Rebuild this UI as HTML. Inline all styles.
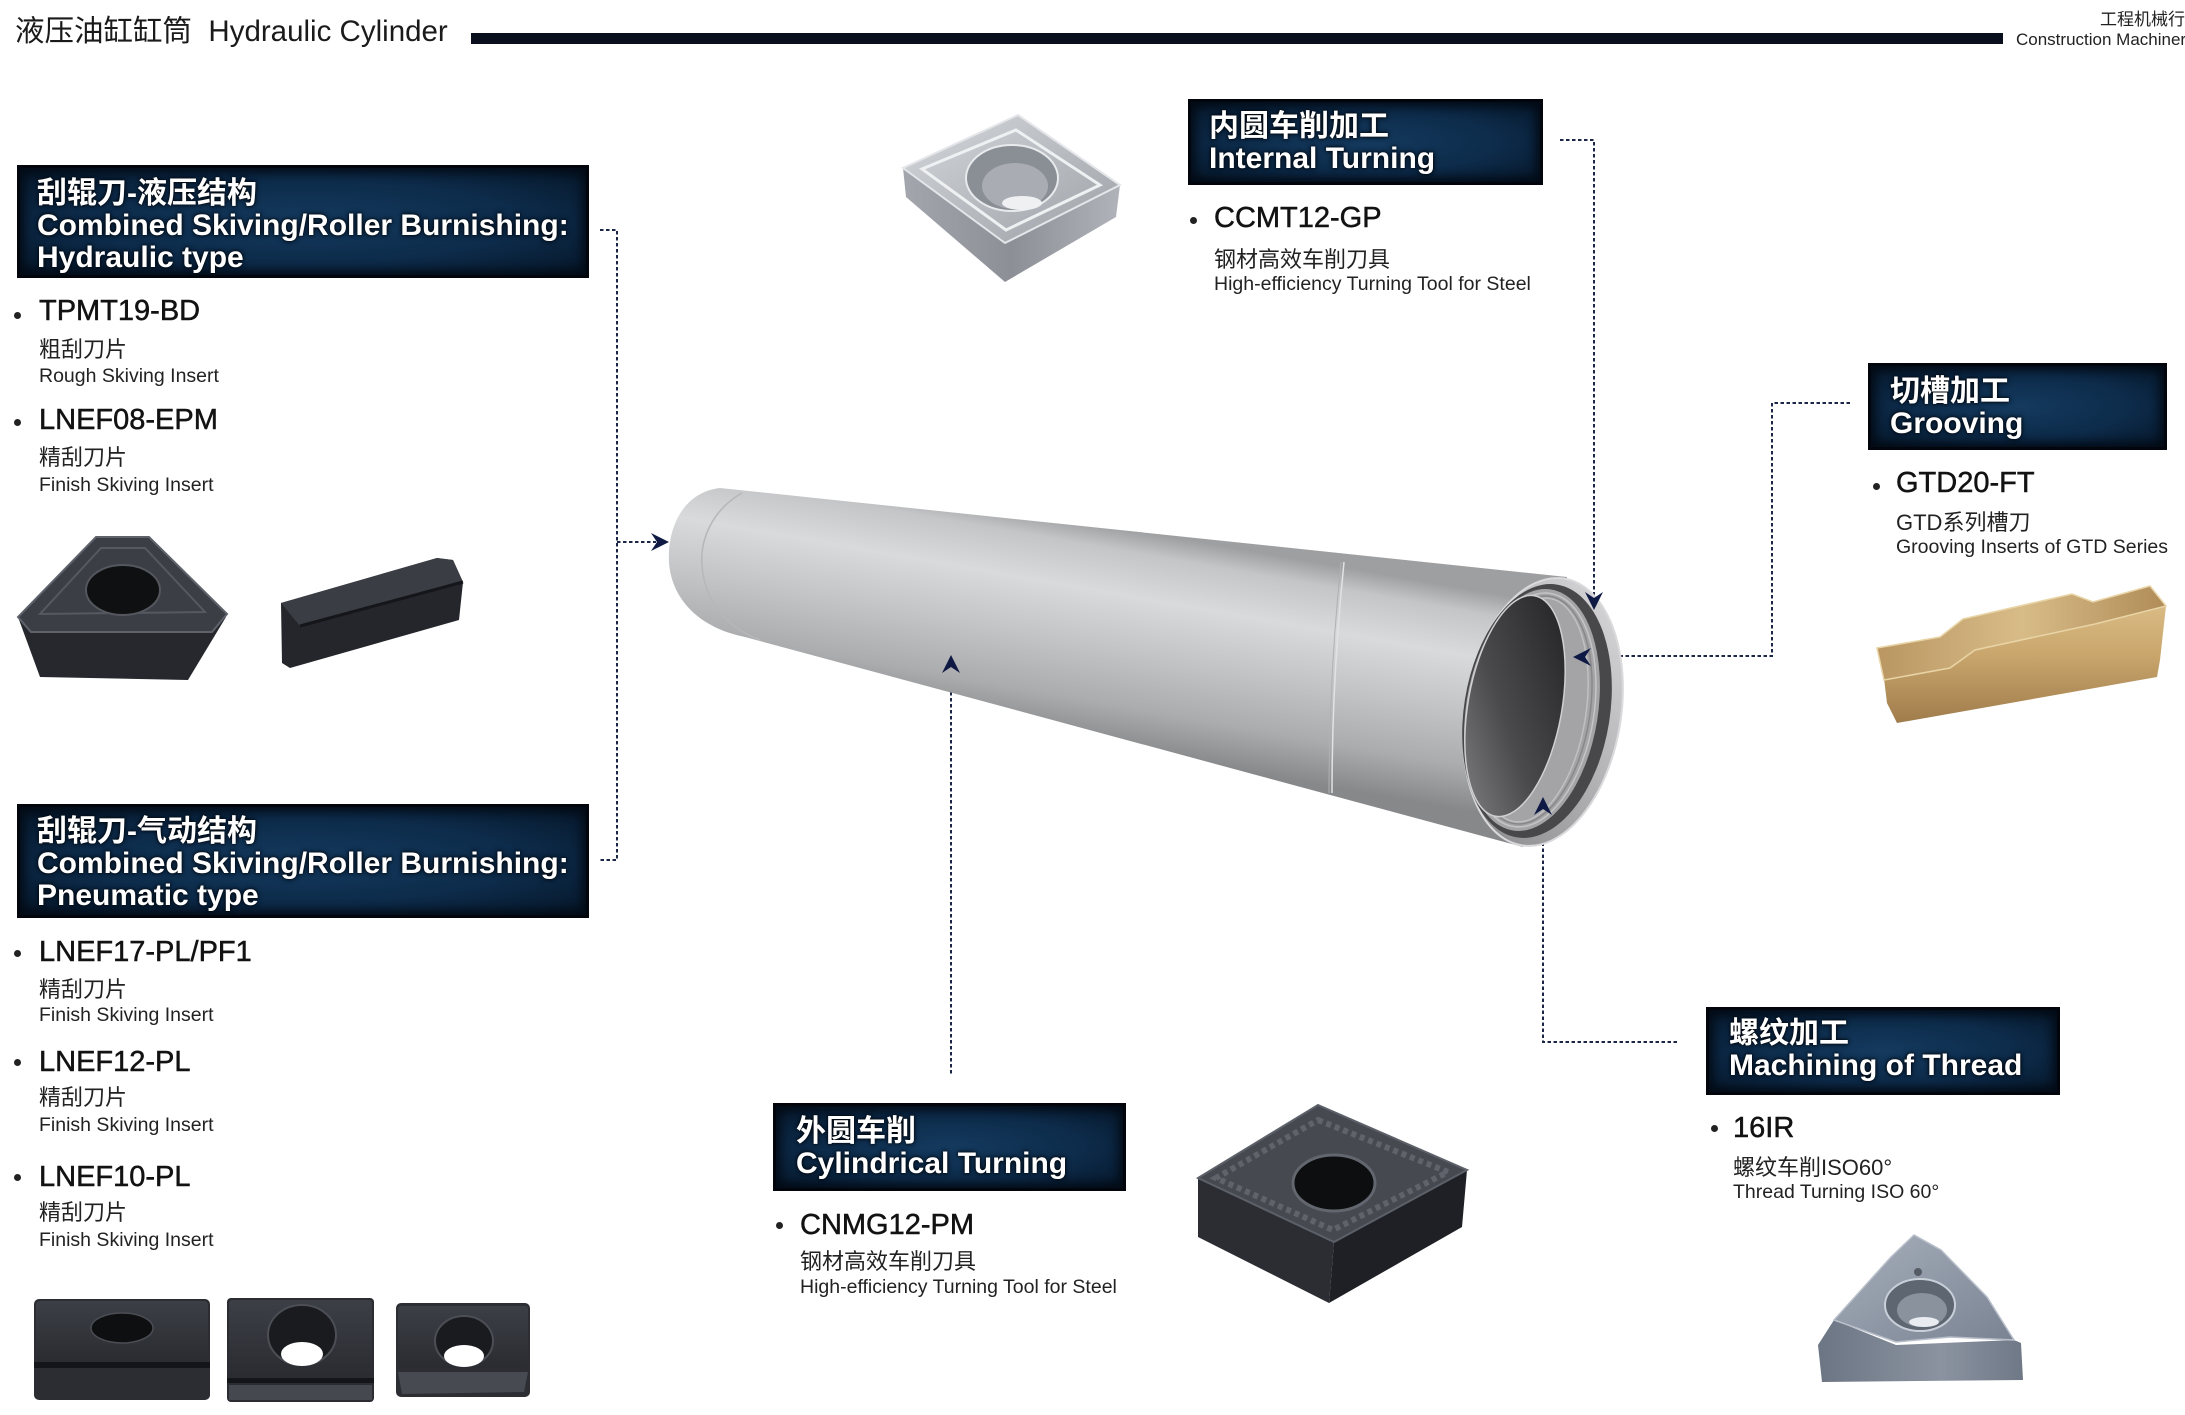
<!DOCTYPE html>
<html><head><meta charset="utf-8"><style>
*{margin:0;padding:0;box-sizing:border-box}
html,body{width:2185px;height:1415px;overflow:hidden;background:#fff}
body{position:relative;font-family:"Liberation Sans","Noto Sans CJK SC",sans-serif;color:#151515}
.a{position:absolute;white-space:nowrap;line-height:1}
.t{font-size:29px;color:#121212;-webkit-text-stroke:0.5px #121212}
.c{font-size:22px;color:#222}
.e{font-size:19.5px;color:#222}
.b{position:absolute;width:7px;height:7px;border-radius:50%;background:#222}
.box{position:absolute;background:radial-gradient(ellipse at 50% 50%,#143a5e 0%,#0d2b4a 55%,#081d33 85%,#04101e 100%);border:3px solid #02060c;box-shadow:inset 0 0 10px 4px #030b16;color:#fff;font-weight:bold;font-size:30px;line-height:32px;white-space:nowrap;text-shadow:0 0 3px #000,0 0 6px #041020}
svg{position:absolute;left:0;top:0}
</style></head><body>

<svg width="2185" height="1415" viewBox="0 0 2185 1415">
<defs>
<linearGradient id="cyl" gradientUnits="userSpaceOnUse" x1="1110" y1="526" x2="1072" y2="742">
<stop offset="0" stop-color="#9e9fa1"/><stop offset="0.1" stop-color="#c4c5c7"/><stop offset="0.3" stop-color="#d9dadc"/><stop offset="0.55" stop-color="#c3c4c6"/><stop offset="0.8" stop-color="#abacae"/><stop offset="1" stop-color="#87888a"/>
</linearGradient>
<linearGradient id="rim" x1="0.8" y1="0" x2="0.2" y2="1"><stop offset="0" stop-color="#d6d6d8"/><stop offset="1" stop-color="#8c8c8e"/></linearGradient>
<linearGradient id="inner" x1="0.8" y1="0.1" x2="0.2" y2="0.9"><stop offset="0" stop-color="#2a2a2c"/><stop offset="0.6" stop-color="#4a4a4c"/><stop offset="1" stop-color="#727274"/></linearGradient>
<linearGradient id="silvTop" x1="0" y1="0" x2="1" y2="1"><stop offset="0" stop-color="#d4d7db"/><stop offset="1" stop-color="#9da1a7"/></linearGradient>
<linearGradient id="silvSide" x1="0" y1="0" x2="1" y2="0"><stop offset="0" stop-color="#a3a7ad"/><stop offset="0.5" stop-color="#8c9096"/><stop offset="1" stop-color="#b0b4ba"/></linearGradient>
<linearGradient id="gold" x1="0" y1="0" x2="0" y2="1"><stop offset="0" stop-color="#e0c48e"/><stop offset="0.5" stop-color="#c9a66c"/><stop offset="1" stop-color="#a07c4c"/></linearGradient>
<linearGradient id="goldTop" x1="0" y1="0" x2="1" y2="0"><stop offset="0" stop-color="#b99662"/><stop offset="0.5" stop-color="#d8bc88"/><stop offset="1" stop-color="#b08c58"/></linearGradient>
<linearGradient id="thrTop" x1="0" y1="0" x2="1" y2="1"><stop offset="0" stop-color="#a7afbc"/><stop offset="1" stop-color="#7a8392"/></linearGradient>
<linearGradient id="thrSide" x1="0" y1="0" x2="1" y2="0"><stop offset="0" stop-color="#6c7583"/><stop offset="0.6" stop-color="#8b93a1"/><stop offset="1" stop-color="#6f7886"/></linearGradient>
<linearGradient id="dk" x1="0" y1="0" x2="0" y2="1"><stop offset="0" stop-color="#3c3f46"/><stop offset="1" stop-color="#2a2c31"/></linearGradient>
<path id="ah" d="M0,0 L-18,-9 L-12,0 L-18,9 Z" fill="#0e1a44"/>
</defs>

<!-- header bar -->
<rect x="471" y="33" width="1532" height="11" fill="#0a0f1e"/>

<!-- connectors -->
<g fill="none" stroke="#1c2748" stroke-width="2" stroke-dasharray="3.5 2.5">
<path d="M600,230 H617 V860 H600"/>
<path d="M617,542 H656"/>
<path d="M951,668 V1074"/>
<path d="M1560,140 H1594 V597"/>
<path d="M1850,403 H1772 V656 H1586"/>
<path d="M1677,1042 H1543 V810"/>
</g>

<!-- cylinder -->
<path d="M720,488 L1567,577 L1523,847 L745,637 C700,628 672,600 669,563 C667,525 685,492 720,488 Z" fill="url(#cyl)"/>
<path d="M742,493 C712,510 700,540 702,565 C704,595 720,625 760,640" fill="none" stroke="#b6b7b9" stroke-width="1.5"/>
<path d="M1344,562 C1336,640 1332,720 1332,793" fill="none" stroke="#e2e2e4" stroke-width="1.5"/>
<path d="M1341,562 C1333,640 1329,720 1329,793" fill="none" stroke="#b0b1b3" stroke-width="1"/>
<g transform="rotate(9 1543 712)">
<ellipse cx="1543" cy="712" rx="78" ry="135" fill="url(#rim)" stroke="#dadadc" stroke-width="2"/>
</g>
<g transform="rotate(9 1537 711)"><ellipse cx="1537" cy="711" rx="73" ry="128" fill="#48484a"/></g>
<g transform="rotate(9 1532 710)">
<ellipse cx="1532" cy="710" rx="66" ry="122" fill="#a4a4a6"/>
<ellipse cx="1532" cy="710" rx="62" ry="118" fill="none" stroke="#c4c4c6" stroke-width="1.5"/>
<ellipse cx="1532" cy="710" rx="58" ry="115" fill="none" stroke="#88888a" stroke-width="1.5"/>
<ellipse cx="1532" cy="710" rx="54" ry="113" fill="none" stroke="#c0c0c2" stroke-width="1.5"/>
</g>
<g transform="rotate(10 1515 706)"><ellipse cx="1515" cy="706" rx="47" ry="112" fill="url(#inner)" stroke="#d0d0d2" stroke-width="1.5"/></g>

<!-- arrowheads -->
<use href="#ah" transform="translate(669,542)"/>
<use href="#ah" transform="translate(951,655) rotate(-90)"/>
<use href="#ah" transform="translate(1594,610) rotate(90)"/>
<use href="#ah" transform="translate(1573,657) rotate(180)"/>
<use href="#ah" transform="translate(1543,797) rotate(-90)"/>

<!-- CCMT silver insert -->
<polygon points="903,168 906,197 1005,282 1116,217 1120,185 1005,243" fill="url(#silvSide)"/>
<polygon points="1018,115 1120,185 1005,243 903,168" fill="url(#silvTop)" stroke="#e4e6e9" stroke-width="2"/>
<polygon points="1016,130 1100,185 1006,230 922,169" fill="none" stroke="#eef0f2" stroke-width="3"/>
<ellipse cx="1012" cy="178" rx="46" ry="33" fill="#8a8f96" stroke="#e8eaec" stroke-width="2"/>
<ellipse cx="1015" cy="186" rx="33" ry="23" fill="#a9adb3"/>
<ellipse cx="1022" cy="203" rx="20" ry="7" fill="#eef0f2"/>

<!-- TPMT dark trigon -->
<polygon points="18,617 40,677 188,680 226,617" fill="#26282d"/>
<polygon points="96,537 149,537 227,614 212,632 31,632 18,617" fill="#3b3e45" stroke="#5e626a" stroke-width="2"/>
<polygon points="101,548 145,548 205,612 40,614" fill="none" stroke="#555961" stroke-width="2"/>
<ellipse cx="123" cy="590" rx="37" ry="25" fill="#0f1012" stroke="#54575e" stroke-width="2"/>
<!-- LNEF08 bar -->
<polygon points="281,603 437,558 453,560 463,582 459,620 290,668 282,663" fill="#24262b"/>
<polygon points="281,603 437,558 453,560 463,582 300,626" fill="#3a3d44"/>
<path d="M300,626 L463,582" stroke="#15161a" stroke-width="3"/>

<!-- bottom three inserts -->
<rect x="34" y="1299" width="176" height="101" rx="5" fill="#2b2d32"/>
<rect x="36" y="1301" width="172" height="60" rx="4" fill="url(#dk)"/>
<rect x="34" y="1362" width="176" height="6" fill="#141518"/>
<ellipse cx="122" cy="1328" rx="31" ry="15" fill="#0e0f11" stroke="#4a4d54" stroke-width="1.5"/>
<rect x="227" y="1298" width="147" height="104" rx="4" fill="#2a2c31"/>
<rect x="229" y="1300" width="143" height="76" rx="3" fill="url(#dk)"/>
<rect x="227" y="1378" width="147" height="5" fill="#141518"/>
<rect x="229" y="1385" width="143" height="15" fill="#45484f"/>
<ellipse cx="302" cy="1335" rx="34" ry="30" fill="#1a1b1e" stroke="#4b4e55" stroke-width="2"/>
<ellipse cx="302" cy="1354" rx="21" ry="12" fill="#ffffff"/>
<rect x="396" y="1303" width="134" height="94" rx="5" fill="#2c2e33"/>
<rect x="398" y="1306" width="130" height="62" rx="3" fill="url(#dk)"/>
<polygon points="398,1372 528,1372 524,1392 402,1394" fill="#474a51"/>
<ellipse cx="464" cy="1341" rx="29" ry="25" fill="#1a1b1e" stroke="#4b4e55" stroke-width="2"/>
<ellipse cx="464" cy="1356" rx="20" ry="11" fill="#ffffff"/>

<!-- CNMG dark square -->
<polygon points="1198,1178 1334,1242 1329,1303 1198,1237" fill="#2b2d33"/>
<polygon points="1334,1242 1467,1170 1462,1227 1329,1303" fill="#1e2025"/>
<polygon points="1318,1105 1467,1170 1334,1242 1198,1178" fill="#464950" stroke="#5c6068" stroke-width="2"/>
<polygon points="1318,1120 1448,1172 1333,1230 1216,1178" fill="none" stroke="#5f636b" stroke-width="6" stroke-dasharray="5 4"/>
<ellipse cx="1334" cy="1183" rx="41" ry="28" fill="#0d0e10" stroke="#62666e" stroke-width="3"/>

<!-- gold grooving insert -->
<polygon points="1877,648 1940,637 1963,619 2072,594 2093,602 2150,586 2166,606 2160,660 2157,677 1897,723 1887,703 1882,662" fill="url(#gold)"/>
<polygon points="1877,648 1940,637 1963,619 2072,594 2093,602 2150,586 2166,606 2095,624 1975,650 1950,668 1884,680" fill="url(#goldTop)" stroke="#e8d4a6" stroke-width="1.5"/>

<!-- thread insert -->
<polygon points="1834,1320 1818,1345 1822,1382 2023,1380 2021,1343 2014,1340 1896,1345" fill="url(#thrSide)"/>
<polygon points="1914,1235 1941,1250 1987,1297 2014,1340 1950,1337 1896,1342 1834,1320 1891,1257" fill="url(#thrTop)" stroke="#b8bfca" stroke-width="1.5"/>
<ellipse cx="1920" cy="1305" rx="35" ry="26" fill="#5e6672" stroke="#c9d0da" stroke-width="2"/>
<ellipse cx="1922" cy="1310" rx="25" ry="17" fill="#8a929e"/>
<ellipse cx="1924" cy="1322" rx="15" ry="5" fill="#e8ecf0"/>
<circle cx="1918" cy="1272" r="4" fill="#555c66"/>
</svg>

<!-- header text -->
<div class="a" style="left:15px;top:17px;font-size:29.5px;color:#1a1a1a">液压油缸缸筒&nbsp; Hydraulic Cylinder</div>
<div class="a" style="left:2100px;top:11px;font-size:17px;color:#222">工程机械行业</div>
<div class="a" style="left:2016px;top:31px;font-size:17px;color:#222">Construction Machinery</div>

<!-- boxes -->
<div class="box" style="left:17px;top:165px;width:572px;height:113px;padding:10px 0 0 17px">刮辊刀-液压结构<br>Combined Skiving/Roller Burnishing:<br>Hydraulic type</div>
<div class="box" style="left:17px;top:804px;width:572px;height:114px;padding:9px 0 0 17px">刮辊刀-气动结构<br>Combined Skiving/Roller Burnishing:<br>Pneumatic type</div>
<div class="box" style="left:1188px;top:99px;width:355px;height:86px;padding:9px 0 0 18px">内圆车削加工<br>Internal Turning</div>
<div class="box" style="left:1868px;top:363px;width:299px;height:87px;padding:10px 0 0 19px">切槽加工<br>Grooving</div>
<div class="box" style="left:1706px;top:1007px;width:354px;height:88px;padding:8px 0 0 20px">螺纹加工<br>Machining of Thread</div>
<div class="box" style="left:773px;top:1103px;width:353px;height:88px;padding:10px 0 0 20px">外圆车削<br>Cylindrical Turning</div>

<!-- left upper list -->
<div class="b" style="left:14px;top:312px"></div>
<div class="a t" style="left:39px;top:297px">TPMT19-BD</div>
<div class="a c" style="left:39px;top:339px">粗刮刀片</div>
<div class="a e" style="left:39px;top:367px">Rough Skiving Insert</div>
<div class="b" style="left:14px;top:419px"></div>
<div class="a t" style="left:39px;top:406px">LNEF08-EPM</div>
<div class="a c" style="left:39px;top:447px">精刮刀片</div>
<div class="a e" style="left:39px;top:476px">Finish Skiving Insert</div>

<!-- left lower list -->
<div class="b" style="left:14px;top:950px"></div>
<div class="a t" style="left:39px;top:938px">LNEF17-PL/PF1</div>
<div class="a c" style="left:39px;top:979px">精刮刀片</div>
<div class="a e" style="left:39px;top:1006px">Finish Skiving Insert</div>
<div class="b" style="left:14px;top:1059px"></div>
<div class="a t" style="left:39px;top:1048px">LNEF12-PL</div>
<div class="a c" style="left:39px;top:1087px">精刮刀片</div>
<div class="a e" style="left:39px;top:1116px">Finish Skiving Insert</div>
<div class="b" style="left:14px;top:1174px"></div>
<div class="a t" style="left:39px;top:1163px">LNEF10-PL</div>
<div class="a c" style="left:39px;top:1202px">精刮刀片</div>
<div class="a e" style="left:39px;top:1231px">Finish Skiving Insert</div>

<!-- internal turning list -->
<div class="b" style="left:1190px;top:217px"></div>
<div class="a t" style="left:1214px;top:204px">CCMT12-GP</div>
<div class="a c" style="left:1214px;top:249px">钢材高效车削刀具</div>
<div class="a e" style="left:1214px;top:275px">High-efficiency Turning Tool for Steel</div>

<!-- cylindrical turning list -->
<div class="b" style="left:776px;top:1222px"></div>
<div class="a t" style="left:800px;top:1211px">CNMG12-PM</div>
<div class="a c" style="left:800px;top:1251px">钢材高效车削刀具</div>
<div class="a e" style="left:800px;top:1278px">High-efficiency Turning Tool for Steel</div>

<!-- grooving list -->
<div class="b" style="left:1873px;top:483px"></div>
<div class="a t" style="left:1896px;top:469px">GTD20-FT</div>
<div class="a c" style="left:1896px;top:512px">GTD系列槽刀</div>
<div class="a e" style="left:1896px;top:538px">Grooving Inserts of GTD Series</div>

<!-- thread list -->
<div class="b" style="left:1711px;top:1125px"></div>
<div class="a t" style="left:1733px;top:1114px">16IR</div>
<div class="a c" style="left:1733px;top:1157px">螺纹车削ISO60°</div>
<div class="a e" style="left:1733px;top:1183px">Thread Turning ISO 60°</div>

</body></html>
